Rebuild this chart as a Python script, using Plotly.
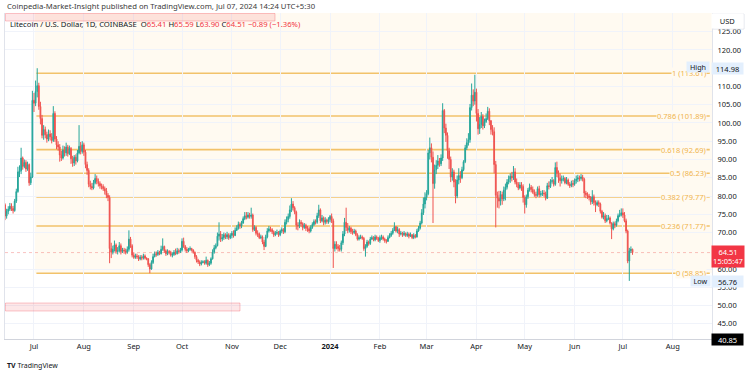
import pandas as pd
import plotly.graph_objects as go

# ---------------- data (LTC/USD daily, Coinbase) ----------------
start_date = "2023-06-13"
end_date = "2024-07-07"
first_open = 77.6

close = [
    # Jun 2023 (13-30)
    74.5, 75.8, 76.4, 77.2, 76.6, 76.0, 78.6, 81.2, 86.6, 86.9, 90.4, 88.1, 89.2, 87.4, 88.6, 83.6, 85.2, 106.2,
    # Jul 2023
    105.4, 108.6, 110.2, 104.5, 101.2, 96.6, 98.2, 96.8, 95.6, 97.0, 96.2, 95.2, 102.6, 95.6, 94.0, 93.4, 91.2, 90.4,
    92.6, 91.8, 93.4, 91.6, 93.0, 90.2, 89.0, 90.6, 89.6, 91.8, 93.6, 92.2, 94.0,
    # Aug 2023
    92.0, 88.6, 87.0, 83.2, 82.6, 82.2, 83.6, 84.8, 84.0, 83.4, 82.8, 82.6, 82.0, 81.4, 80.2, 79.6, 65.6, 64.6, 65.4,
    66.6, 64.8, 65.0, 66.4, 64.8, 65.2, 65.0, 64.6, 65.4, 68.2, 66.4, 63.8,
    # Sep 2023
    63.2, 63.6, 63.4, 62.8, 63.2, 63.0, 63.6, 63.0, 62.8, 61.2, 60.0, 61.8, 63.4, 64.2, 64.0, 64.6, 64.2, 65.4, 66.2,
    65.0, 64.2, 64.8, 64.6, 63.8, 64.0, 64.6, 64.2, 65.0, 64.8, 65.2,
    # Oct 2023
    67.6, 66.2, 65.4, 65.0, 65.4, 65.6, 65.2, 64.6, 63.4, 62.4, 62.0, 61.4, 61.8, 62.0, 61.6, 62.4, 61.2, 61.6, 62.8,
    64.6, 65.8, 66.4, 69.0, 69.6, 68.2, 68.6, 69.4, 68.8, 69.4, 68.6, 69.2,
    # Nov 2023
    69.8, 69.2, 70.6, 71.2, 72.2, 71.8, 72.6, 73.8, 74.6, 74.2, 74.8, 74.4, 74.8, 70.8, 71.4, 69.8, 69.6, 68.6, 68.8,
    67.4, 66.2, 68.8, 70.4, 71.0, 70.8, 70.2, 69.4, 69.8, 70.0, 69.4,
    # Dec 2023
    70.4, 70.8, 70.2, 72.8, 73.6, 74.4, 76.2, 77.8, 76.8, 75.6, 72.0, 71.8, 72.8, 72.4, 71.4, 72.0, 71.2, 71.0, 70.4,
    71.4, 72.2, 73.0, 72.8, 74.6, 76.2, 73.2, 74.0, 72.8, 73.4, 73.0, 73.6,
    # Jan 2024
    74.4, 73.2, 65.6, 66.8, 66.2, 65.6, 65.4, 67.2, 69.6, 72.8, 71.4, 70.6, 71.2, 70.2, 70.0, 70.4, 69.4, 68.2, 68.6,
    68.8, 68.4, 65.6, 66.2, 67.4, 67.0, 68.2, 68.6, 68.0, 68.8, 68.4, 67.8,
    # Feb 2024
    68.6, 68.8, 68.2, 67.8, 67.6, 68.6, 69.2, 69.8, 70.6, 71.6, 70.4, 70.8, 69.6, 69.8, 69.4, 69.8, 69.2, 69.6, 69.0,
    69.4, 68.6, 69.2, 68.8, 70.4, 71.2, 72.6, 75.4, 77.8, 79.6,
    # Mar 2024
    80.6, 91.8, 93.2, 90.6, 83.4, 87.2, 88.4, 89.6, 88.8, 90.4, 103.4, 98.6, 96.6, 92.4, 90.0, 85.2, 86.6, 83.8, 80.0,
    84.4, 85.6, 85.0, 87.2, 89.4, 93.2, 94.6, 95.4, 104.2, 107.6, 106.0, 108.4,
    # Apr 2024
    102.6, 98.4, 99.6, 101.8, 99.2, 100.4, 101.2, 103.2, 100.6, 98.2, 97.6, 88.6, 80.2, 79.4, 78.6, 80.4, 79.2, 81.6,
    82.4, 83.8, 84.6, 85.4, 85.0, 86.6, 83.8, 83.2, 82.2, 83.0, 82.6, 79.6,
    # May 2024
    77.6, 79.8, 81.6, 82.4, 81.8, 81.0, 80.4, 80.2, 82.0, 80.4, 80.6, 80.8, 80.6, 79.4, 82.8, 82.6, 84.0, 84.2, 83.2,
    87.8, 86.2, 85.0, 84.2, 84.6, 84.8, 83.6, 84.4, 83.2, 82.8, 83.4, 83.2,
    # Jun 2024
    84.2, 84.6, 85.0, 84.8, 85.2, 84.6, 80.8, 80.4, 80.0, 79.6, 78.4, 79.8, 78.2, 77.6, 78.2, 77.8, 75.8, 74.2, 74.6,
    73.2, 73.8, 74.0, 72.6, 71.0, 72.4, 72.0, 73.2, 74.6, 74.8, 75.4,
    # Jul 2024 (1-7)
    74.8, 73.2, 70.4, 62.2, 65.0, 65.41, 64.51,
]

high = [
    78.0, 76.5, 77.2, 78.1, 78.0, 77.3, 79.2, 82.0, 88.0, 88.4, 93.2, 90.8, 90.0, 89.8, 89.4, 88.9, 86.4, 108.8,
    108.2, 111.6, 114.98, 111.0, 105.8, 102.2, 99.4, 99.0, 97.6, 98.2, 98.0, 97.2, 104.6, 103.2, 96.4, 95.0, 94.2, 92.4,
    93.8, 93.6, 94.6, 94.0, 93.8, 93.4, 91.0, 91.2, 91.4, 92.6, 99.4, 94.8, 95.0,
    94.6, 92.6, 89.4, 87.6, 84.2, 83.6, 84.4, 86.0, 85.6, 84.8, 84.0, 83.4, 83.2, 82.6, 82.2, 80.8, 80.2, 67.2, 66.4,
    67.8, 67.0, 66.0, 67.4, 67.0, 65.8, 65.8, 65.6, 66.2, 70.6, 68.8, 66.8,
    64.6, 64.2, 64.2, 63.8, 63.8, 63.8, 64.2, 64.0, 63.2, 63.0, 61.6, 62.4, 64.2, 64.8, 64.8, 65.2, 65.0, 66.4, 68.4,
    66.4, 65.4, 65.4, 65.2, 65.0, 64.6, 65.2, 65.6, 65.8, 65.6, 65.8,
    68.4, 68.6, 66.6, 66.0, 65.8, 66.2, 65.8, 65.4, 64.8, 63.8, 62.8, 62.4, 62.4, 62.4, 62.4, 63.4, 62.6, 62.2, 63.2,
    65.4, 66.6, 67.0, 70.0, 72.8, 70.4, 69.6, 70.0, 69.8, 70.2, 69.8, 69.8,
    70.4, 70.6, 71.4, 72.0, 73.0, 72.8, 73.2, 74.4, 75.6, 75.6, 75.6, 75.4, 76.8, 75.2, 72.0, 71.8, 70.6, 70.0, 69.4,
    69.2, 68.0, 69.4, 71.2, 71.8, 71.6, 71.2, 70.6, 70.4, 70.8, 70.4,
    70.8, 71.4, 71.2, 73.6, 74.4, 75.2, 77.4, 79.4, 78.6, 77.2, 76.0, 72.8, 73.6, 73.4, 72.8, 72.6, 72.4, 71.8, 71.6,
    72.0, 72.8, 73.6, 73.6, 75.4, 77.6, 76.6, 74.8, 74.4, 74.2, 73.8, 74.2,
    74.8, 75.2, 73.8, 67.6, 67.6, 66.8, 66.6, 67.8, 70.4, 74.0, 76.8, 72.6, 71.8, 71.6, 71.0, 71.0, 70.8, 69.8, 69.2,
    69.4, 69.2, 68.8, 66.8, 68.0, 67.8, 68.8, 69.2, 69.0, 69.4, 69.2, 68.8,
    69.2, 69.4, 69.2, 68.6, 68.2, 69.2, 69.8, 70.4, 71.2, 72.8, 71.8, 71.6, 71.2, 70.4, 70.2, 70.4, 70.0, 70.2, 70.0,
    70.0, 69.6, 69.8, 69.6, 71.0, 71.8, 73.2, 76.4, 79.6, 81.0,
    81.6, 92.6, 96.0, 94.4, 92.2, 88.6, 89.8, 91.2, 90.4, 91.4, 105.4, 103.8, 99.8, 97.4, 93.2, 90.8, 87.6, 87.2, 84.6,
    85.6, 87.6, 86.8, 88.0, 89.8, 94.0, 95.8, 97.2, 105.2, 110.8, 109.2, 113.2,
    109.4, 103.8, 101.6, 103.0, 102.4, 101.2, 102.6, 104.4, 104.0, 100.8, 99.4, 98.8, 89.6, 81.2, 81.4, 81.4, 81.2,
    82.6, 83.4, 84.6, 85.6, 86.2, 86.6, 88.2, 87.6, 84.8, 83.8, 83.8, 83.8, 83.2,
    80.2, 80.4, 82.2, 83.4, 83.0, 82.6, 81.8, 81.2, 82.6, 82.8, 81.4, 81.6, 81.6, 81.2, 83.6, 84.0, 84.6, 85.2, 84.6,
    89.2, 89.4, 87.0, 86.2, 85.6, 85.6, 85.2, 85.2, 84.8, 83.8, 84.2, 84.4,
    84.8, 85.6, 85.8, 85.6, 86.0, 85.8, 85.0, 81.4, 81.0, 80.6, 80.0, 81.6, 80.4, 78.8, 78.8, 78.8, 78.2, 76.2, 75.6,
    75.2, 74.8, 74.8, 74.4, 72.8, 73.0, 73.0, 73.8, 75.2, 76.2, 76.6,
    76.6, 75.6, 73.8, 70.8, 65.8, 66.2, 65.59,
]

low = [
    73.4, 73.8, 75.0, 75.9, 75.9, 75.2, 75.7, 78.1, 80.9, 85.2, 86.0, 87.2, 87.6, 86.6, 86.9, 82.8, 83.0, 84.9,
    103.0, 104.6, 107.0, 103.6, 99.6, 95.8, 95.4, 95.8, 94.6, 95.0, 95.2, 94.4, 94.8, 94.8, 92.8, 92.4, 89.4, 89.6,
    90.0, 90.8, 91.0, 90.8, 91.2, 88.8, 88.0, 88.2, 88.6, 89.2, 91.4, 91.4, 91.6,
    91.0, 87.6, 85.8, 82.4, 81.8, 81.6, 81.8, 83.2, 83.2, 82.6, 82.0, 81.8, 81.4, 80.4, 79.4, 78.6, 61.6, 63.0, 64.0,
    64.8, 64.2, 64.0, 64.6, 64.0, 64.4, 64.2, 64.0, 64.2, 64.8, 65.8, 63.2,
    62.8, 62.8, 62.8, 62.2, 62.4, 62.4, 62.6, 62.6, 62.4, 60.6, 58.85, 59.8, 61.4, 63.2, 63.4, 63.6, 63.8, 64.0, 65.0,
    64.4, 63.6, 63.8, 64.0, 63.4, 63.2, 63.6, 63.8, 64.0, 64.2, 64.4,
    64.8, 65.8, 64.8, 64.4, 64.6, 65.0, 64.8, 64.2, 62.8, 61.8, 61.4, 60.8, 61.0, 61.6, 61.2, 61.2, 60.6, 60.8, 61.2,
    62.6, 64.2, 65.4, 66.2, 67.8, 67.4, 67.6, 68.0, 68.2, 68.2, 68.0, 68.2,
    68.4, 68.6, 69.0, 70.4, 70.8, 71.0, 71.2, 72.4, 73.4, 73.6, 73.8, 73.8, 73.8, 70.2, 70.4, 69.2, 68.8, 68.2, 68.2,
    66.8, 65.2, 66.0, 68.4, 70.0, 70.2, 69.6, 68.8, 69.0, 69.4, 68.8,
    69.0, 69.8, 69.6, 69.8, 72.2, 72.8, 73.8, 75.6, 76.0, 75.0, 70.8, 70.6, 71.2, 71.6, 70.6, 71.0, 70.4, 70.2, 69.8,
    70.0, 71.0, 71.8, 72.2, 72.4, 74.0, 72.6, 72.8, 72.0, 72.2, 72.4, 72.4,
    72.8, 72.6, 60.3, 64.8, 65.4, 64.8, 64.8, 64.8, 66.6, 69.0, 70.4, 69.8, 70.0, 69.6, 69.4, 69.6, 69.0, 67.8, 67.8,
    68.2, 68.0, 65.0, 63.4, 65.8, 66.4, 66.6, 68.0, 67.6, 67.6, 68.0, 67.4,
    67.2, 68.0, 67.8, 67.2, 67.0, 67.4, 68.4, 68.8, 69.4, 70.4, 70.0, 69.8, 68.8, 69.2, 68.8, 69.0, 68.8, 68.8, 68.4,
    68.8, 68.2, 68.2, 68.4, 68.6, 70.2, 70.8, 72.2, 74.8, 76.6,
    78.8, 80.2, 90.0, 89.2, 72.6, 82.0, 86.0, 87.4, 88.0, 88.2, 89.6, 97.2, 94.8, 90.2, 87.4, 83.8, 84.2, 82.4, 78.0,
    79.4, 83.2, 83.6, 84.6, 86.8, 89.0, 92.6, 93.8, 94.6, 103.4, 104.6, 105.0,
    100.4, 96.8, 97.0, 98.6, 98.2, 98.6, 100.0, 100.8, 99.4, 96.8, 96.6, 86.2, 71.4, 76.8, 76.6, 77.4, 77.6, 78.6,
    78.8, 81.8, 83.2, 83.6, 84.0, 84.4, 83.2, 82.4, 81.6, 81.8, 81.4, 78.2,
    75.2, 76.8, 79.2, 81.2, 81.0, 80.6, 79.8, 79.4, 79.8, 79.6, 79.8, 80.0, 79.8, 78.8, 79.2, 81.8, 82.2, 83.4, 82.6,
    82.8, 85.2, 83.6, 82.6, 83.4, 84.0, 83.2, 83.2, 82.8, 82.2, 82.4, 82.4,
    82.8, 83.4, 83.8, 84.0, 84.2, 84.0, 79.6, 79.4, 79.2, 78.8, 77.6, 77.8, 77.4, 75.6, 77.2, 77.0, 75.2, 73.8, 73.6,
    72.6, 72.8, 73.4, 72.2, 68.2, 70.6, 71.2, 71.6, 72.8, 74.2, 74.4,
    74.0, 72.8, 69.8, 61.6, 56.76, 64.4, 63.90,
]

fib_ratios = [1, 0.786, 0.618, 0.5, 0.382, 0.236, 0]
fib_high = 113.61
fib_low = 58.85
high_label = 114.98
low_label = 56.76
last_price = 64.51

month_ticks = ["2023-07-01", "2023-08-01", "2023-09-01", "2023-10-01", "2023-11-01", "2023-12-01",
               "2024-01-01", "2024-02-01", "2024-03-01", "2024-04-01", "2024-05-01", "2024-06-01",
               "2024-07-01", "2024-08-01"]
month_labels = ["Jul", "Aug", "Sep", "Oct", "Nov", "Dec", "<b>2024</b>", "Feb", "Mar", "Apr", "May", "Jun",
                "Jul", "Aug"]
price_ticks = [45, 50, 55, 60, 70, 75, 80, 85, 90, 95, 100, 105, 110, 120, 125]

# ---------------- build ----------------
dates = pd.date_range(start_date, end_date, freq="D")
n = len(dates)
assert len(close) == n and len(high) == n and len(low) == n, (len(close), len(high), len(low), n)
opens = [first_open] + close[:-1]
highs = [max(h, o, c) for h, o, c in zip(high, opens, close)]
lows = [min(l, o, c) for l, o, c in zip(low, opens, close)]

GREEN = "#26a69a"
RED = "#ef5350"
FIB = "#f2c26a"
FIBTXT = "#f0b44c"
CREAM = "#fffaf1"
FONT = "Noto Sans"

X0, X1 = "2023-06-12 23:30", "2024-08-25 09:30"
Y0, Y1 = 40.85, 130.1

def px_x(p):
    return (p - 5) / 707.0

def px_y(p):
    return (339 - p) / 326.0

fig = go.Figure()
fig.add_trace(go.Candlestick(
    x=dates, open=opens, high=highs, low=lows, close=close,
    increasing=dict(line=dict(color=GREEN, width=1), fillcolor=GREEN),
    decreasing=dict(line=dict(color=RED, width=1), fillcolor=RED),
    whiskerwidth=0, showlegend=False, hoverinfo="skip",
))

shapes = []
# fib background
shapes.append(dict(type="rect", xref="x", yref="y", x0="2023-07-01 12:00", x1=X1, y0=fib_low, y1=Y1,
                   fillcolor=CREAM, line=dict(width=0), layer="below"))
# pink drawing boxes (author's rectangles) -- drawn as paths in paper space
def pink_box(xa, xb, ya, yb):
    shapes.append(dict(type="path", xref="paper", yref="paper",
                       path=f"M {px_x(xa)},{px_y(ya)} L {px_x(xb)},{px_y(ya)} L {px_x(xb)},{px_y(yb)} "
                            f"L {px_x(xa)},{px_y(yb)} Z",
                       fillcolor="rgba(242,54,69,0.12)", line=dict(color="rgba(242,54,69,0.28)", width=1),
                       layer="above"))

pink_box(5.5, 275, 13.5, 21)
pink_box(5.5, 240, 303, 311)
# last price line
shapes.append(dict(type="line", xref="x", yref="y", x0=X0, x1=X1, y0=last_price, y1=last_price,
                   line=dict(color="rgba(239,83,80,0.35)", width=1, dash="dot"), layer="below"))

annotations = []
rng = fib_high - fib_low
for r in fib_ratios:
    v = round(fib_low + r * rng, 2)
    shapes.append(dict(type="line", xref="x", yref="y", x0="2023-07-02 12:00", x1="2024-08-24",
                       y0=v, y1=v, line=dict(color=FIB, width=1.6), layer="below"))
    lab = f"{r:g} ({v:.2f})"
    annotations.append(dict(xref="paper", yref="y", x=px_x(707), y=v, text=lab, showarrow=False,
                            xanchor="right", yanchor="middle", bgcolor=CREAM, borderpad=0,
                            font=dict(family=FONT, size=7.5, color=FIBTXT)))

# header and legend texts
annotations.append(dict(xref="paper", yref="paper", x=px_x(5), y=px_y(6), xanchor="left", yanchor="middle",
                        showarrow=False,
                        text="Coinpedia-Market-Insight published on TradingView.com, Jul 07, 2024 14:24 UTC+5:30",
                        font=dict(family=FONT, size=7.7, color="#3b3b3b")))
R = "#f23645"
legend_txt = ("Litecoin / U.S. Dollar, 1D, COINBASE  O<span style='color:%s'>65.41</span> "
              "H<span style='color:%s'>65.59</span> L<span style='color:%s'>63.90</span> "
              "C<span style='color:%s'>64.51</span> <span style='color:%s'>−0.89 (−1.36%%)</span>") % (R, R, R, R, R)
annotations.append(dict(xref="paper", yref="paper", x=px_x(8), y=px_y(24), xanchor="left", yanchor="middle",
                        showarrow=False, text=legend_txt, font=dict(family=FONT, size=7.7, color="#131722")))
# TradingView logo
annotations.append(dict(xref="paper", yref="paper", x=px_x(5), y=px_y(365), xanchor="left", yanchor="middle",
                        showarrow=False, text="<b>TV</b> TradingView",
                        font=dict(family=FONT, size=7, color="#131722")))

# right-axis special labels
def axis_box(py, text, bg, fg, h=11, x=728, w=31):
    annotations.append(dict(xref="paper", yref="paper", x=px_x(x), y=px_y(py), xanchor="center",
                            yanchor="middle", showarrow=False, text=text, bgcolor=bg, width=w, height=h,
                            borderpad=0, font=dict(family=FONT, size=7.5, color=fg)))

axis_box(21.5, "USD", "#ffffff", "#131722", h=14)
shapes.append(dict(type="rect", xref="paper", yref="paper", x0=px_x(713), x1=px_x(744), y0=px_y(29),
                   y1=px_y(14), line=dict(color="#e0e3eb", width=1), fillcolor="rgba(0,0,0,0)"))
y_hi = 50 + (120 - high_label) * 3.653
y_lo = 50 + (120 - low_label) * 3.653
y_last = 50 + (120 - last_price) * 3.653
axis_box(y_hi, f"{high_label:.2f}", "#e3effd", "#131722")
axis_box(y_lo, f"{low_label:.2f}", "#e3effd", "#131722")
annotations.append(dict(xref="paper", yref="paper", x=px_x(698), y=px_y(y_hi - 1), xanchor="center",
                        yanchor="middle", showarrow=False, text="High", bgcolor="#e3effd", width=22, height=10,
                        borderpad=0, font=dict(family=FONT, size=7.2, color="#131722")))
annotations.append(dict(xref="paper", yref="paper", x=px_x(700), y=px_y(y_lo), xanchor="center",
                        yanchor="middle", showarrow=False, text="Low", bgcolor="#e3effd", width=19, height=10,
                        borderpad=0, font=dict(family=FONT, size=7.2, color="#131722")))
axis_box(y_last + 4, f"{last_price:.2f}<br>15:05:47", "#f23645", "#ffffff", h=21, w=32)
axis_box(339, "40.85", "#000000", "#ffffff", h=11)

fig.update_layout(
    width=750, height=373,
    margin=dict(l=5, r=38, t=13, b=34),
    paper_bgcolor="#ffffff", plot_bgcolor="#ffffff",
    shapes=shapes, annotations=annotations,
    font=dict(family=FONT, size=8, color="#131722"),
    showlegend=False,
    xaxis=dict(range=[X0, X1], rangeslider=dict(visible=False), type="date",
               tickvals=month_ticks, ticktext=month_labels, ticks="",
               tickfont=dict(family=FONT, size=7.5, color="#131722"),
               showgrid=True, gridcolor="#f0f3fa", gridwidth=1,
               showline=True, linecolor="#d1d4dc", linewidth=1, zeroline=False, fixedrange=True),
    yaxis=dict(range=[Y0, Y1], side="right", tickvals=price_ticks,
               ticktext=[f"{v:.2f}" for v in price_ticks], ticks="", ticklabelstandoff=3,
               tickfont=dict(family=FONT, size=7.5, color="#131722"),
               showgrid=True, gridcolor="#f0f3fa", gridwidth=1,
               showline=True, linecolor="#e0e3eb", linewidth=1, mirror=True, zeroline=False,
               fixedrange=True),
)

fig.write_html("out.html", config={"displayModeBar": False},
               post_script="document.body.style.margin='0';document.body.style.padding='0';"
                           "document.body.style.overflow='hidden';")
